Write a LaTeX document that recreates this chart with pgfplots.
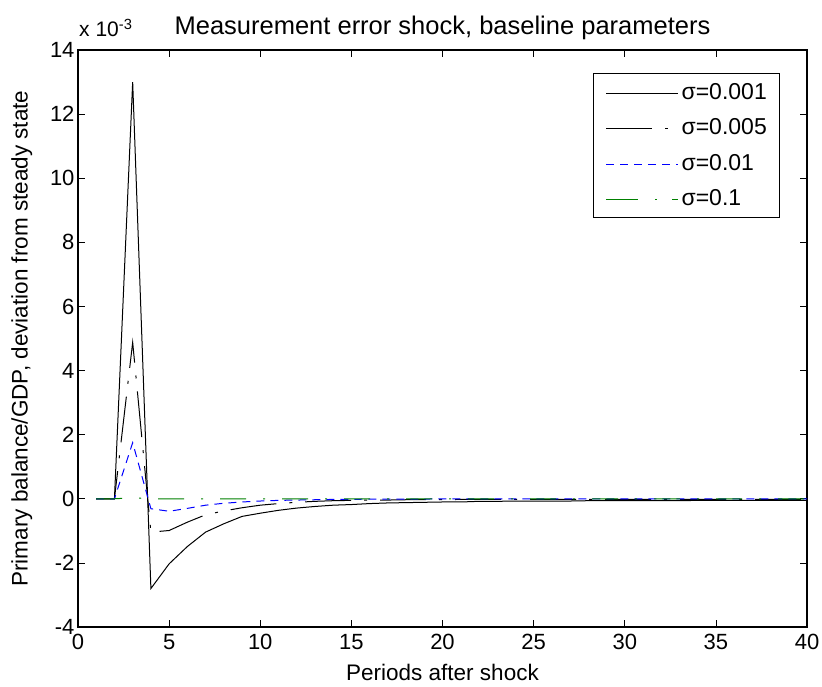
\documentclass[border=0pt]{standalone}
\usepackage{fontspec}
\setmainfont{Liberation Sans}
\usepackage{pgfplots}
\pgfplotsset{compat=1.18}
\usetikzlibrary{calc}
\definecolor{mgreen}{rgb}{0,0.5,0}
\newcommand{\legimg}[2]{{\color{#1}\tikz[baseline=-0.5ex]\draw[draw=#1,line width=1bp,#2] (0bp,0bp)--(72bp,0bp);}}
\begin{document}
\begin{tikzpicture}
\begin{axis}[
  name=ax,
  scale only axis,
  width=729bp, height=577bp,
  xmin=0, xmax=40, ymin=-4, ymax=14,
  xtick={0,5,...,40},
  ytick={-4,-2,...,14},
  scaled ticks=false,
  /pgf/number format/assume math mode=true,
  tick align=inside,
  major tick length=7bp,
  every tick/.style={black, line width=0.6bp},
  axis line style={black, line width=1.1bp},
  tick label style={font=\fontsize{22bp}{26bp}\selectfont},
  xticklabel style={yshift=-4bp},
  label style={font=\fontsize{22.5bp}{26bp}\selectfont},
  xlabel={Periods after shock},
  ylabel={Primary balance/GDP, deviation from steady state},
  xlabel style={at={(axis description cs:0.5,-0.078)}, anchor=center},
  ylabel style={at={(axis description cs:-0.077,0.5)}, anchor=center, rotate=0},
  title={Measurement error shock, baseline parameters},
  title style={font=\fontsize{25.5bp}{30bp}\selectfont, at={(axis description cs:0.5,1.017)}, anchor=base},
  legend cell align=left,
  legend image code/.code={},
  legend style={at={(1,1)}, xshift=-28bp, yshift=-23bp, anchor=north east,
    inner xsep=10bp, inner ysep=8bp,
    row sep=14bp,
    nodes={inner sep=2bp, font=\fontsize{23bp}{27bp}\selectfont}},
]
\addplot[color=black, line width=1bp] coordinates {
(1,0) (2,0) (3,13.0) (4,-2.80) (5,-2.03) (6,-1.49) (7,-1.04) (8,-0.78) (9,-0.55) (10,-0.45)
(11,-0.36) (12,-0.29) (13,-0.24) (14,-0.20) (15,-0.18) (16,-0.15) (17,-0.13) (18,-0.12) (19,-0.11) (20,-0.10)
(21,-0.10) (22,-0.08) (23,-0.08) (24,-0.07) (25,-0.07) (26,-0.07) (27,-0.07) (28,-0.06) (29,-0.06) (30,-0.06)
(31,-0.06) (32,-0.06) (33,-0.06) (34,-0.05) (35,-0.05) (36,-0.05) (37,-0.05) (38,-0.05) (39,-0.05) (40,-0.05)};
\addlegendentry{\legimg{black}{solid}\hspace{3bp}σ=0.001}
\addplot[color=black, line width=1bp, dash pattern=on 46bp off 13bp on 3bp off 13bp] coordinates {
(1,0) (2,0) (3,4.88) (4,-1.04) (5,-0.99) (6,-0.73) (7,-0.50) (8,-0.38) (9,-0.28) (10,-0.20)
(11,-0.15) (12,-0.11) (13,-0.08) (14,-0.06) (15,-0.05) (16,-0.04) (17,-0.04) (18,-0.03) (19,-0.03) (20,-0.03)
(21,-0.02) (22,-0.02) (23,-0.02) (24,-0.02) (25,-0.02) (26,-0.02) (27,-0.02) (28,-0.02) (29,-0.02) (30,-0.02)
(31,-0.02) (32,-0.02) (33,-0.02) (34,-0.02) (35,-0.02) (36,-0.02) (37,-0.02) (38,-0.02) (39,-0.02) (40,-0.02)};
\addlegendentry{\legimg{black}{dash pattern=on 46bp off 13bp on 3bp off 13bp}\hspace{3bp}σ=0.005}
\addplot[color=blue, line width=1bp, dash pattern=on 8bp off 6bp] coordinates {
(1,0) (2,0) (3,1.75) (4,-0.31) (5,-0.39) (6,-0.30) (7,-0.20) (8,-0.14) (9,-0.10) (10,-0.07)
(11,-0.05) (12,-0.04) (13,-0.03) (14,-0.02) (15,-0.02) (16,-0.01) (17,-0.01) (18,-0.01) (19,-0.01) (20,0)
(21,0) (22,0) (23,0) (24,0) (25,0) (26,0) (27,0) (28,0) (29,0) (30,0)
(31,0) (32,0) (33,0) (34,0) (35,0) (36,0) (37,0) (38,0) (39,0) (40,0)};
\addlegendentry{\legimg{blue}{dash pattern=on 8bp off 6bp}\hspace{3bp}σ=0.01}
\addplot[color=mgreen, line width=1bp, dash pattern=on 26bp off 17bp on 2bp off 17bp] coordinates {
(1,0) (2,0) (3,0.03) (4,0) (5,0) (6,0) (7,0) (8,0) (9,0) (10,0)
(11,0) (12,0) (13,0) (14,0) (15,0) (16,0) (17,0) (18,0) (19,0) (20,0)
(21,0) (22,0) (23,0) (24,0) (25,0) (26,0) (27,0) (28,0) (29,0) (30,0)
(31,0) (32,0) (33,0) (34,0) (35,0) (36,0) (37,0) (38,0) (39,0) (40,0)};
\addlegendentry{\legimg{mgreen}{dash pattern=on 32bp off 17bp on 2bp off 15bp}\hspace{3bp}σ=0.1}
\end{axis}
\node[anchor=base west, font=\fontsize{21bp}{25bp}\selectfont, inner sep=0pt] at ($(ax.north west)+(1bp,13bp)$) {x 10\textsuperscript{-3}};
\pgfresetboundingbox
\path[use as bounding box] ($(ax.south west)+(-78bp,-60bp)$) rectangle ($(ax.north east)+(15bp,50bp)$);
\end{tikzpicture}
\end{document}
